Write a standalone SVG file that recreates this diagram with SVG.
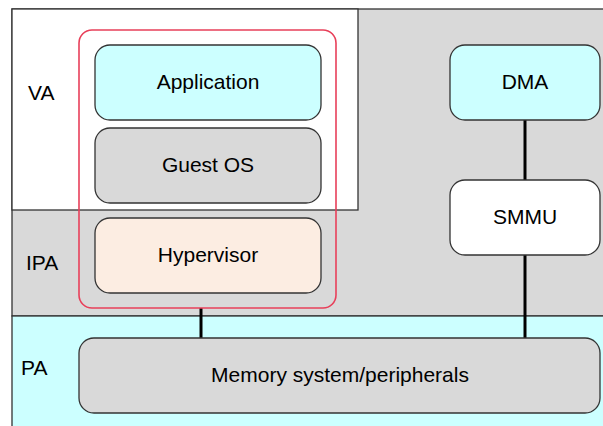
<svg xmlns="http://www.w3.org/2000/svg" width="603" height="426" viewBox="0 0 603 426">
<style>
text{font-family:"Liberation Sans",Arial,sans-serif;font-size:21px;fill:#000;}
.c{text-anchor:middle;}
.node{stroke:#333;stroke-width:1.3;}
.band{stroke:#333;stroke-width:1.3;}
.conn{stroke:#000;stroke-width:3;fill:none;}
</style>
<rect width="603" height="426" fill="#fff"/>
<g id="bands">
<rect class="band" x="12" y="9" width="600" height="307" fill="#d9d9d9"/>
<rect class="band" x="12" y="316" width="600" height="120" fill="#ccffff"/>
<rect class="band" x="12" y="9" width="346" height="201" fill="#fff"/>
<text x="28" y="100">VA</text>
<text x="26" y="270">IPA</text>
<text x="21" y="375">PA</text>
</g>
<g id="connectors">
<line class="conn" x1="201" y1="308" x2="201" y2="338"/>
<line class="conn" x1="525" y1="120" x2="525" y2="180"/>
<line class="conn" x1="525" y1="255" x2="525" y2="338"/>
</g>
<g id="vm-group">
<rect x="79" y="30" width="257" height="278" rx="13" fill="none" stroke="#e8405a" stroke-width="1.6"/>
</g>
<g id="application">
<rect class="node" x="95" y="45" width="226" height="75" rx="15" fill="#ccffff"/>
<text class="c" x="208" y="89">Application</text>
</g>
<g id="guest-os">
<rect class="node" x="95" y="128" width="226" height="75" rx="15" fill="#d9d9d9"/>
<text class="c" x="208" y="172">Guest OS</text>
</g>
<g id="hypervisor">
<rect class="node" x="95" y="218" width="226" height="75" rx="15" fill="#fcede2"/>
<text class="c" x="208" y="262">Hypervisor</text>
</g>
<g id="dma">
<rect class="node" x="450" y="45" width="150" height="75" rx="15" fill="#ccffff"/>
<text class="c" x="525" y="89">DMA</text>
</g>
<g id="smmu">
<rect class="node" x="450" y="180" width="150" height="75" rx="15" fill="#fff"/>
<text class="c" x="525" y="224">SMMU</text>
</g>
<g id="memory">
<rect class="node" x="79" y="338" width="521" height="75" rx="15" fill="#d9d9d9"/>
<text class="c" x="340" y="382">Memory system/peripherals</text>
</g>
</svg>
